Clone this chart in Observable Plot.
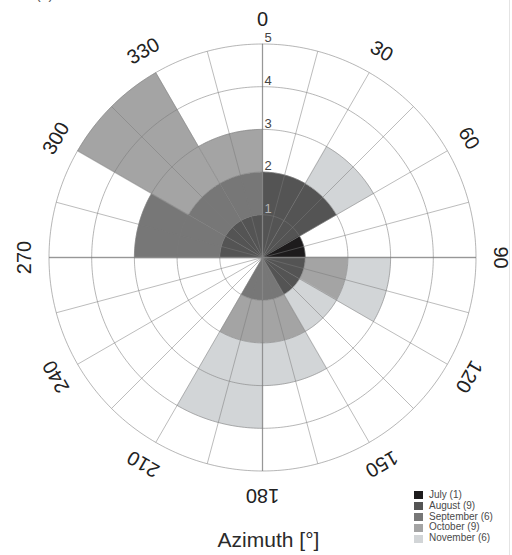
<!DOCTYPE html>
<html>
<head>
<meta charset="utf-8">
<script src="https://cdn.jsdelivr.net/npm/d3@7"></script>
<script src="https://cdn.jsdelivr.net/npm/@observablehq/plot@0.6"></script>
<style>
  body { margin: 0; background: #fff; font-family: "Liberation Sans", Arial, sans-serif; }
  #wrap { position: relative; width: 512px; height: 555px; overflow: hidden; background: #fff; }
  #wrap svg { position: absolute; left: 0; top: 0; }
  #title { position: absolute; left: 0; width: 537px; text-align: center; top: 529px; font-size: 21px; line-height: 21px; color: #2a2a2a; }
  #panel { position: absolute; left: 36px; top: -13px; font-size: 14px; line-height: 14px; color: #555; }
  #legend { position: absolute; left: 414px; top: 490px; font-size: 10px; color: #4a4a4a; }
  #legend .row { height: 10.8px; line-height: 10.8px; white-space: nowrap; display: flex; align-items: center; }
  #legend .sw { width: 9px; height: 8px; margin-right: 6px; flex: none; }
  #edge { position: absolute; left: 509px; top: 0; width: 1px; height: 555px; background: #e4e4e4; }
</style>
</head>
<body>
<div id="wrap">
  <div id="panel">(a)</div>
  <div id="title">Azimuth [°]</div>
  <div id="legend"></div>
  <div id="edge"></div>
</div>
<script>
// ---- data ----
const binStarts = [0, 30, 60, 90, 120, 150, 180, 210, 240, 270, 300, 330];
const binWidth = 30;
const months = ["July", "August", "September", "October", "November"];
const monthCounts = [1, 9, 6, 9, 6];
const july      = [0, 0, 1, 0, 0, 0, 0, 0, 0, 0, 0, 0];
const august    = [2, 2, 0, 1, 1, 0, 0, 0, 0, 1, 1, 1];
const september = [0, 0, 0, 0, 0, 1, 1, 0, 0, 2, 1, 1];
const october   = [0, 0, 0, 1, 0, 1, 1, 0, 0, 0, 3, 1];
const november  = [0, 1, 0, 1, 1, 1, 2, 0, 0, 0, 0, 0];
const monthColors = ["#1d1b1c", "#545454", "#777777", "#a4a4a4", "#d2d5d7"];
const ringValues = [1, 2, 3, 4, 5];
const angleLabels = [0, 30, 60, 90, 120, 150, 180, 210, 240, 270, 300, 330];
const spokeStep = 15;
const rMax = 5;

// ---- geometry helpers ----
const rad = a => a * Math.PI / 180;
const px = (r, a) => r * Math.sin(rad(a));
const py = (r, a) => r * Math.cos(rad(a));

const series = [july, august, september, october, november];
const wedgePts = [];
binStarts.forEach((a0, i) => {
  let base = 0;
  series.forEach((vals, m) => {
    const v = vals[i];
    if (!v) return;
    const r0 = base, r1 = base + v, a1 = a0 + binWidth, id = i + "-" + m;
    for (let a = a0; a <= a1; a += 1) wedgePts.push({id, month: months[m], a, r: r1});
    if (r0 === 0) wedgePts.push({id, month: months[m], a: a1, r: 0});
    else for (let a = a1; a >= a0; a -= 1) wedgePts.push({id, month: months[m], a, r: r0});
    base = r1;
  });
});

const ringPts = [];
ringValues.forEach(r => { for (let a = 0; a <= 360; a += 1) ringPts.push({r, a}); });
const spokes = d3.range(0, 360, spokeStep);
const axesSpokes = spokes.filter(a => a % 90 === 0);

const unit = 42.7;
const cx = 262, cy = 257, W = 512, H = 555;

const chart = Plot.plot({
  width: W, height: H, margin: 0,
  style: {background: "transparent", fontFamily: "Liberation Sans, Arial, sans-serif"},
  x: {domain: [-cx / unit, (W - cx) / unit], range: [0, W], axis: null},
  y: {domain: [-(H - cy) / unit, cy / unit], range: [H, 0], axis: null},
  color: {domain: months, range: monthColors},
  marks: [
    Plot.line(wedgePts, {x: d => px(d.r, d.a), y: d => py(d.r, d.a), z: "id", fill: "month", stroke: "month", strokeWidth: 0.4, curve: "linear-closed"}),
    Plot.link(spokes, {x1: 0, y1: 0, x2: a => px(rMax, a), y2: a => py(rMax, a), stroke: "#7a7a7a", strokeOpacity: 0.5, strokeWidth: 1}),
    Plot.link(axesSpokes, {x1: 0, y1: 0, x2: a => px(rMax, a), y2: a => py(rMax, a), stroke: "#888", strokeOpacity: 0.7, strokeWidth: 1.3}),
    Plot.line(ringPts, {x: d => px(d.r, d.a), y: d => py(d.r, d.a), z: "r", stroke: "#7a7a7a", strokeOpacity: 0.55, strokeWidth: 1}),
    Plot.text(ringValues.filter(r => r > 1), {x: 0, y: r => r, text: r => String(r), dx: 2, dy: -6, textAnchor: "start", fontSize: 13, fill: "#444"}),
    Plot.text(ringValues.filter(r => r === 1), {x: 0, y: r => r, text: r => String(r), dx: 2, dy: -6, textAnchor: "start", fontSize: 13, fill: "#b5b5b5"}),
    Plot.text(angleLabels, {x: a => px(5.58, a), y: a => py(5.58, a), text: a => String(a), rotate: a => a, fontSize: 20, fill: "#222"})
  ]
});
document.getElementById("wrap").prepend(chart);

const legend = document.getElementById("legend");
months.forEach((m, i) => {
  const row = document.createElement("div");
  row.className = "row";
  const sw = document.createElement("span");
  sw.className = "sw";
  sw.style.background = monthColors[i];
  row.appendChild(sw);
  row.appendChild(document.createTextNode(m + " (" + monthCounts[i] + ")"));
  legend.appendChild(row);
});
</script>
</body>
</html>
